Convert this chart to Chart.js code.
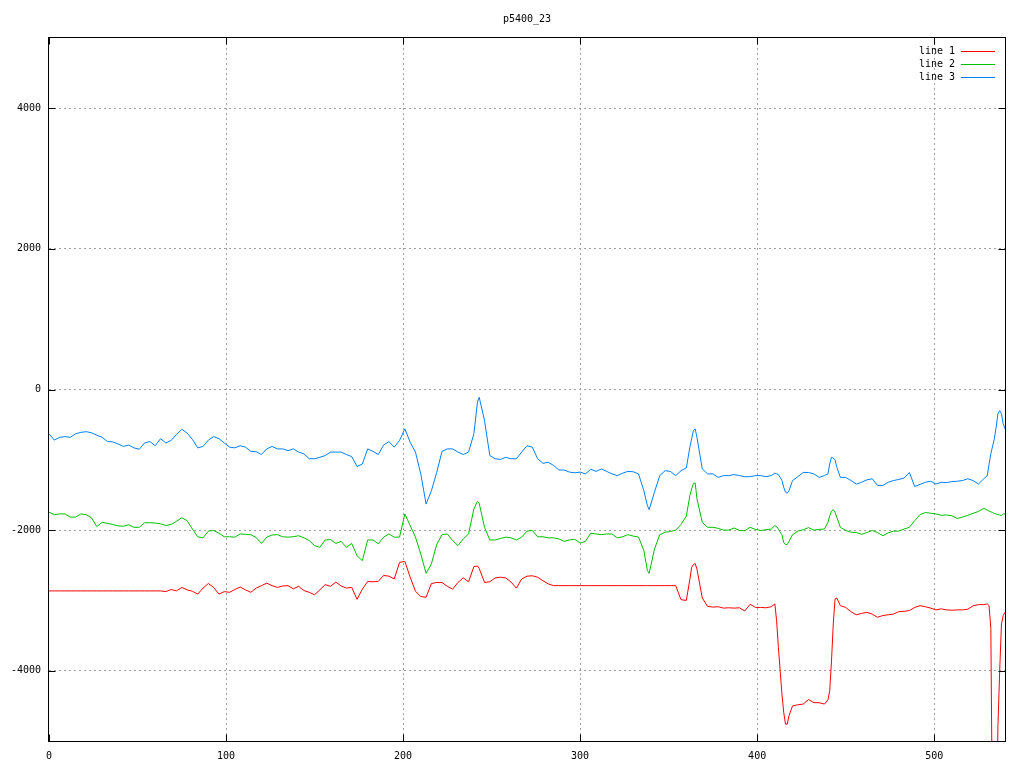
<!DOCTYPE html>
<html>
<head>
<meta charset="utf-8">
<title>p5400_23</title>
<script src="https://cdn.jsdelivr.net/npm/chart.js@4.4.1/dist/chart.umd.min.js"></script>
<style>
  html, body { margin: 0; padding: 0; background: #fff; }
  #wrap { width: 1024px; height: 768px; position: relative; }
</style>
</head>
<body>
<div id="wrap"><canvas id="chart"></canvas></div>
<script>
// x positions shared by all three series (denser around the sharp features)
const xs = [
    0, 3, 6, 9, 12, 15, 18, 21, 24, 27,
    30, 33, 36, 39, 42, 45, 48, 51, 54, 57,
    60, 63, 66, 69, 72, 75, 78, 81, 84, 87,
    90, 93, 96, 99, 102, 105, 108, 111, 114, 117,
    120, 123, 126, 129, 132, 135, 138, 141, 144, 147,
    150, 153, 156, 159, 162, 165, 168, 171, 174, 177,
    180, 183, 186, 189, 192, 195, 198, 201, 204, 207,
    210, 213, 216, 219, 222, 225, 228, 231, 234, 237,
    240, 242, 243,
    246, 249, 252, 255, 258, 261, 264, 267, 270,
    273, 276, 279, 282, 285, 288, 291, 294, 297, 300,
    303, 306, 309, 312, 315, 318, 321, 324, 327, 330,
    333, 336, 338, 339,
    342, 345, 348, 351, 354, 357, 360,
    362, 363, 364, 365, 366,
    369, 372, 375, 378, 381, 384, 387, 390, 393, 396, 399, 402, 405, 408,
    410, 411, 412, 413, 414, 415, 416, 417, 418,
    420, 423, 426, 429, 432, 435, 438,
    440, 441, 442, 443, 444, 445,
    447, 450, 453, 456, 459, 462, 465, 468, 471, 474,
    477, 480, 483, 486, 489, 492, 495, 498, 501, 504,
    507, 510, 513, 516, 519, 522, 525, 528,
    530, 531, 532, 533, 534, 535, 536, 537, 538, 539, 540
]

// line 1 (red)
const line1 = [
    -2865, -2865, -2865, -2865, -2865, -2865, -2865, -2865, -2865, -2865,
    -2865, -2865, -2865, -2865, -2865, -2865, -2865, -2865, -2865, -2865,
    -2865, -2865, -2875, -2845, -2865, -2815, -2850, -2870, -2910, -2825,
    -2760, -2815, -2910, -2875, -2885, -2845, -2810, -2850, -2885, -2825,
    -2790, -2755, -2790, -2815, -2795, -2790, -2835, -2800, -2860, -2885,
    -2920, -2850, -2775, -2800, -2740, -2795, -2825, -2815, -2985, -2840,
    -2730, -2735, -2730, -2645, -2655, -2695, -2460, -2445, -2670, -2870,
    -2945, -2955, -2760, -2745, -2745, -2800, -2840, -2745, -2680, -2735,
    -2520, -2510, -2545,
    -2745, -2735, -2680, -2670, -2680, -2740, -2825, -2695, -2655,
    -2650, -2670, -2720, -2765, -2790, -2790, -2790, -2790, -2790, -2790,
    -2790, -2790, -2790, -2790, -2790, -2790, -2790, -2790, -2790, -2790,
    -2790, -2790, -2790, -2790,
    -2790, -2790, -2790, -2790, -2790, -2990, -3000,
    -2700, -2530, -2490, -2475, -2555,
    -2965, -3085, -3095, -3090, -3110, -3105, -3110, -3105, -3150, -3055, -3100, -3100, -3105, -3090,
    -3050, -3290, -3670, -4000, -4330, -4590, -4760, -4760, -4640,
    -4500, -4485, -4475, -4410, -4455, -4455, -4475,
    -4415, -4285, -3860, -3335, -2980, -2965,
    -3075, -3100, -3160, -3205, -3185, -3170, -3195, -3240, -3215, -3205,
    -3195, -3160, -3155, -3145, -3100, -3075, -3090, -3110, -3135, -3120,
    -3135, -3140, -3135, -3135, -3125, -3075, -3060, -3060,
    -3050, -3075, -3400, -6500, -6500, -6500, -4800, -4000, -3335, -3215, -3170
]

// line 2 (green)
const line2 = [
    -1745, -1780, -1770, -1770, -1815, -1815, -1770, -1780, -1825, -1950,
    -1890, -1905, -1920, -1940, -1945, -1925, -1960, -1960, -1895, -1895,
    -1900, -1910, -1935, -1920, -1875, -1825, -1865, -1985, -2095, -2110,
    -2015, -2005, -2045, -2095, -2095, -2100, -2055, -2060, -2065, -2105,
    -2190, -2100, -2070, -2065, -2095, -2100, -2095, -2080, -2110, -2150,
    -2220, -2245, -2140, -2135, -2190, -2160, -2245, -2190, -2365, -2435,
    -2140, -2140, -2195, -2100, -2055, -2100, -2100, -1770, -1935, -2100,
    -2340, -2615, -2480, -2205, -2065, -2055, -2150, -2220, -2125, -2055,
    -1700, -1590, -1620,
    -1960, -2140, -2140, -2120, -2100, -2110, -2140, -2100, -2015,
    -2005, -2095, -2095, -2110, -2110, -2125, -2160, -2140, -2130, -2185,
    -2160, -2045, -2055, -2065, -2055, -2055, -2110, -2095, -2065, -2085,
    -2100, -2290, -2575, -2615,
    -2270, -2065, -2030, -2020, -2000, -1920, -1800,
    -1510, -1415, -1335, -1330, -1555,
    -1890, -1960, -1960, -1975, -2000, -2000, -1970, -2005, -2010, -1960, -1990, -2005, -1995, -1985,
    -1935, -1950, -1985, -2030, -2065, -2175, -2205, -2205, -2160,
    -2065, -2015, -1995, -1965, -2000, -1990, -1985,
    -1890, -1795, -1730, -1710, -1745, -1815,
    -1960, -2005, -2030, -2035, -2060, -2035, -2005, -2035, -2080, -2040,
    -2015, -2015, -1985, -1960, -1865, -1780, -1750, -1760, -1770, -1790,
    -1785, -1795, -1835, -1815, -1790, -1760, -1735, -1690,
    -1715, -1730, -1740, -1750, -1765, -1770, -1780, -1785, -1795, -1770, -1770
]

// line 3 (blue)
const line3 = [
    -630, -720, -680, -670, -680, -630, -610, -600, -615, -650,
    -680, -740, -745, -775, -810, -790, -830, -850, -760, -740,
    -800, -700, -760, -725, -640, -565, -620, -710, -830, -810,
    -720, -670, -700, -760, -820, -830, -800, -820, -880, -885,
    -925, -845, -810, -845, -845, -870, -845, -890, -915, -985,
    -985, -965, -940, -890, -890, -890, -925, -955, -1095, -1060,
    -845, -880, -925, -790, -740, -820, -725, -560, -750, -890,
    -1200, -1630, -1440, -1180, -880, -845, -845, -890, -925, -890,
    -630, -180, -110,
    -440, -940, -985, -995, -965, -985, -985, -890, -800,
    -820, -985, -1050, -1035, -1080, -1145, -1145, -1175, -1185, -1175,
    -1200, -1135, -1165, -1130, -1165, -1200, -1225, -1190, -1165, -1170,
    -1200, -1440, -1650, -1710,
    -1460, -1225, -1155, -1165, -1225, -1155, -1115,
    -820, -700, -585, -560, -680,
    -1130, -1200, -1200, -1250, -1225, -1225, -1210, -1225, -1240, -1240, -1225, -1225, -1240, -1225,
    -1190, -1200, -1210, -1250, -1295, -1390, -1460, -1475, -1440,
    -1295, -1240, -1180, -1180, -1200, -1250, -1225,
    -1200, -1060, -965, -975, -1000, -1105,
    -1250, -1250, -1295, -1345, -1320, -1285, -1270, -1365, -1365, -1320,
    -1295, -1280, -1260, -1180, -1380, -1350, -1320, -1305, -1345, -1320,
    -1325, -1310, -1305, -1295, -1270, -1295, -1345, -1270,
    -1225, -1060, -915, -805, -700, -535, -345, -300, -345, -490, -560
]

const labels = ['line 1', 'line 2', 'line 3']
const colors = ['#ff0000', '#00c000', '#0080ff']
const xTicks = [0, 100, 200, 300, 400, 500]
const yTicks = [-4000, -2000, 0, 2000, 4000]
const title = 'p5400_23'

const FONT = '"DejaVu Sans Mono", "Liberation Mono", monospace'

function pts(vals) {
    return xs.map((x, i) => ({ x: x, y: vals[i] }))
}

// gnuplot style frame, inward ticks, title and key
const gnuFrame = {
    id: 'gnuFrame',
    afterDraw(chart) {
        const ctx = chart.ctx
        const a = chart.chartArea
        const sx = chart.scales.x, sy = chart.scales.y
        const L = a.left - 0.5, R = a.right + 0.5
        const T = a.top - 0.5, B = a.bottom + 0.5
        const tl = 7

        ctx.save()
        ctx.strokeStyle = '#000'
        ctx.lineWidth = 1
        ctx.strokeRect(L, T, R - L, B - T)

        ctx.beginPath()
        xTicks.forEach(v => {
            const px = Math.round(sx.getPixelForValue(v)) + 0.5
            ctx.moveTo(px, B); ctx.lineTo(px, B - tl)
            ctx.moveTo(px, T); ctx.lineTo(px, T + tl)
        })
        yTicks.forEach(v => {
            const py = Math.round(sy.getPixelForValue(v)) + 0.5
            ctx.moveTo(L, py); ctx.lineTo(L + tl, py)
            ctx.moveTo(R, py); ctx.lineTo(R - tl, py)
        })
        ctx.stroke()

        // title
        ctx.fillStyle = '#000'
        ctx.font = '10px ' + FONT
        ctx.textAlign = 'center'
        ctx.textBaseline = 'middle'
        ctx.fillText(title, (a.left + a.right) / 2, 19)

        // key, top right inside the plot
        ctx.textAlign = 'right'
        labels.forEach((lab, i) => {
            const y = 51 + i * 13
            ctx.fillStyle = '#000'
            ctx.fillText(lab, 955, y)
            ctx.strokeStyle = colors[i]
            ctx.beginPath()
            ctx.moveTo(961, Math.round(y) + 0.5)
            ctx.lineTo(995, Math.round(y) + 0.5)
            ctx.stroke()
        })
        ctx.restore()
    }
}

function build() {
    const ctx = document.getElementById('chart').getContext('2d')
    const series = [line1, line2, line3]

    const chart = new Chart(ctx, {
        type: 'line',
        data: {
            datasets: series.map((vals, i) => ({
                label: labels[i],
                data: pts(vals),
                borderColor: colors[i],
                borderWidth: 1,
                pointRadius: 0,
                tension: 0,
                fill: false
            }))
        },
        options: {
            responsive: true,
            maintainAspectRatio: false,
            animation: false,
            layout: { padding: { top: 38, right: 19, left: 0, bottom: 0 } },
            scales: {
                x: {
                    type: 'linear',
                    min: 0,
                    max: 540,
                    afterBuildTicks: s => { s.ticks = xTicks.map(v => ({ value: v })) },
                    afterFit: s => { s.height = 27 },
                    grid: {
                        drawTicks: false,
                        color: c => (c.tick && c.tick.value === 0) ? 'rgba(0,0,0,0)' : '#a0a0a0'
                    },
                    border: { display: false, dash: [2, 3] },
                    ticks: {
                        padding: 9,
                        color: '#000',
                        maxRotation: 0,
                        autoSkip: false,
                        font: { size: 10, family: FONT },
                        callback: v => String(v)
                    }
                },
                y: {
                    type: 'linear',
                    min: -5000,
                    max: 5000,
                    afterBuildTicks: s => { s.ticks = yTicks.map(v => ({ value: v })) },
                    afterFit: s => { s.width = 49 },
                    grid: { drawTicks: false, color: '#a0a0a0' },
                    border: { display: false, dash: [2, 3] },
                    ticks: {
                        padding: 8,
                        color: '#000',
                        autoSkip: false,
                        font: { size: 10, family: FONT },
                        callback: v => String(v)
                    }
                }
            },
            plugins: {
                legend: { display: false },
                title: { display: false },
                tooltip: { enabled: false }
            }
        },
        plugins: [gnuFrame]
    })
    return chart
}

build()
</script>
</body>
</html>
